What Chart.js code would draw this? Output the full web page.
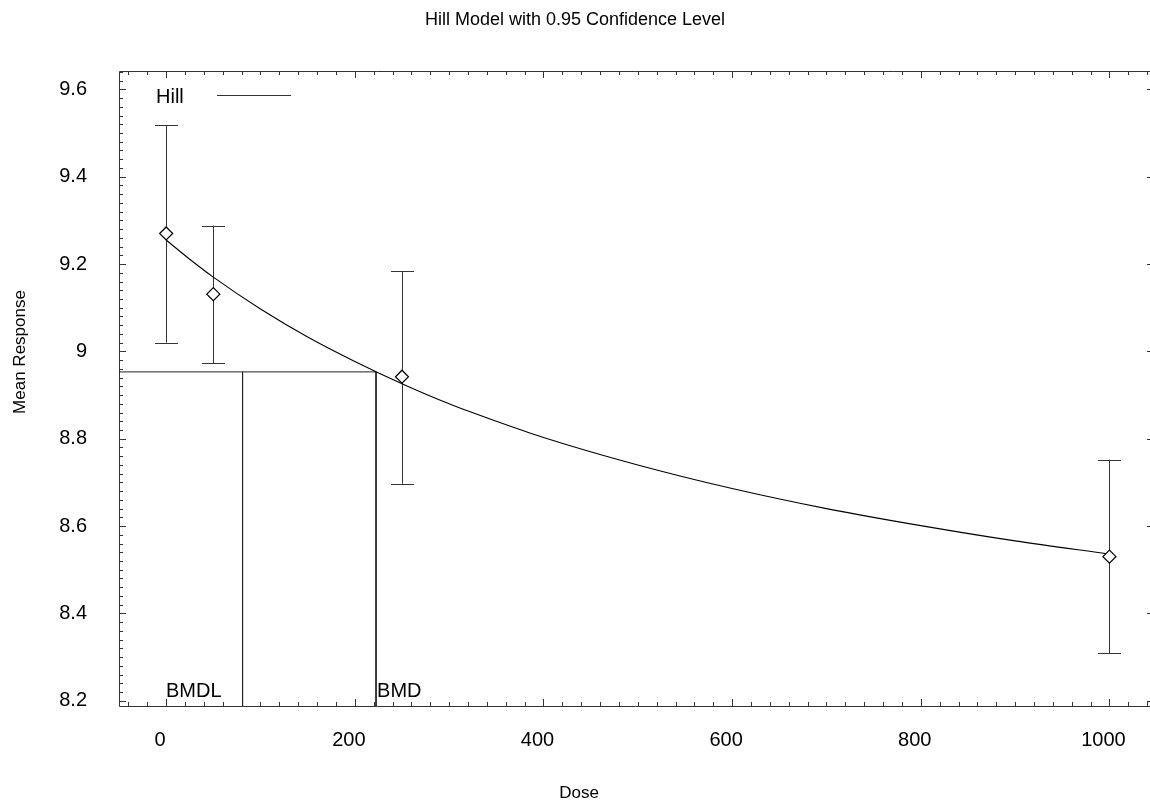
<!DOCTYPE html>
<html>
<head>
<meta charset="utf-8">
<title>Hill Model with 0.95 Confidence Level</title>
<script src="https://cdn.jsdelivr.net/npm/chart.js@4.4.0/dist/chart.umd.min.js"></script>
<style>
  html, body { margin: 0; padding: 0; background: #fff; overflow: hidden; }
  #wrap { width: 1150px; height: 805px; }
</style>
</head>
<body>
<div id="wrap"><canvas id="chart" width="1150" height="805"></canvas></div>
<script>
// Observed dose groups (mean with 95% bars)
const doses = [0, 50, 250, 1000];
const means = [9.27, 9.131, 8.942, 8.530];
const lowerBars = [9.02, 8.973, 8.697, 8.309];
const upperBars = [9.518, 9.288, 9.184, 8.752];

// Fitted Hill curve
const curveDoses = [0, 25, 50, 100, 150, 200, 250, 300, 350, 400, 500, 600, 700, 800, 900, 1000];
const curveValues = [9.255, 9.211, 9.170, 9.097, 9.033, 8.977, 8.926, 8.880, 8.840, 8.803, 8.740, 8.686, 8.640, 8.601, 8.566, 8.536];

// Benchmark dose markers
const bmr = 8.953;
const bmd = 222.5;
const bmdl = 81;

// Axis ticks
const xTicks = [0, 200, 400, 600, 800, 1000];
const yTicks = [8.2, 8.4, 8.6, 8.8, 9, 9.2, 9.4, 9.6];
const xMinorStep = 20;
const yMinorStep = 0.02;

const FONT = "'Liberation Sans', Arial, Helvetica, sans-serif";
const X_MIN = -50, X_MAX = 1043;
const Y_MIN = 8.188, Y_MAX = 9.642;

// frame, inward ticks and error bars
const framePlugin = {
    id: 'frame',
    beforeDatasetsDraw(chart) {
        const { ctx, chartArea: a, scales: { x, y } } = chart;
        ctx.save();
        ctx.strokeStyle = '#333';
        ctx.lineWidth = 1;
        ctx.beginPath();
        ctx.moveTo(a.left + 0.5, a.top + 0.5);
        ctx.lineTo(a.left + 0.5, a.bottom + 0.5);
        ctx.lineTo(a.right + 2, a.bottom + 0.5);
        ctx.moveTo(a.left + 0.5, a.top + 0.5);
        ctx.lineTo(a.right + 2, a.top + 0.5);

        // x ticks on bottom and top
        for (let v = Math.ceil(X_MIN / xMinorStep) * xMinorStep; v <= X_MAX; v += xMinorStep) {
            const px = Math.round(x.getPixelForValue(v)) + 0.5;
            const len = v % 200 === 0 ? 7 : 4;
            ctx.moveTo(px, a.bottom);
            ctx.lineTo(px, a.bottom - len);
            ctx.moveTo(px, a.top);
            ctx.lineTo(px, a.top + len);
        }
        // y ticks on left and right
        for (let i = 0; ; i++) {
            const v = 8.2 + i * yMinorStep;
            if (v > Y_MAX) break;
            const py = Math.round(y.getPixelForValue(v)) + 0.5;
            const major = i % 10 === 0;
            const len = major ? 7 : 4;
            ctx.moveTo(a.left, py);
            ctx.lineTo(a.left + len, py);
            if (major) {
                ctx.moveTo(a.right + 2, py);
                ctx.lineTo(a.right - 3, py);
            }
        }
        ctx.stroke();

        // error bars
        ctx.strokeStyle = '#333';
        ctx.beginPath();
        doses.forEach((d, i) => {
            const px = Math.round(x.getPixelForValue(d)) + 0.5;
            const top = y.getPixelForValue(upperBars[i]);
            const bot = y.getPixelForValue(lowerBars[i]);
            ctx.moveTo(px, top);
            ctx.lineTo(px, bot);
            ctx.moveTo(px - 11.5, Math.round(top) + 0.5);
            ctx.lineTo(px + 11.5, Math.round(top) + 0.5);
            ctx.moveTo(px - 11.5, Math.round(bot) + 0.5);
            ctx.lineTo(px + 11.5, Math.round(bot) + 0.5);
        });
        ctx.stroke();
        ctx.restore();
    },
    afterDraw(chart) {
        const { ctx, scales: { x, y } } = chart;
        ctx.save();
        ctx.fillStyle = '#000';
        ctx.textBaseline = 'middle';
        ctx.textAlign = 'center';
        ctx.font = `18px ${FONT}`;
        ctx.fillText('Hill Model with 0.95 Confidence Level', 575, 20);
        ctx.font = `17px ${FONT}`;
        ctx.fillText('Dose', 579, 793);
        ctx.save();
        ctx.translate(20, 352);
        ctx.rotate(-Math.PI / 2);
        ctx.fillText('Mean Response', 0, 0);
        ctx.restore();

        // legend
        ctx.font = `20px ${FONT}`;
        ctx.textAlign = 'left';
        ctx.textBaseline = 'alphabetic';
        ctx.fillText('Hill', 156, 103);
        ctx.strokeStyle = '#333';
        ctx.lineWidth = 1;
        ctx.beginPath();
        ctx.moveTo(217, 95.5);
        ctx.lineTo(291, 95.5);
        ctx.stroke();

        // BMD labels
        ctx.textAlign = 'right';
        ctx.fillText('BMDL', x.getPixelForValue(bmdl) - 21, 697);
        ctx.textAlign = 'left';
        ctx.fillText('BMD', x.getPixelForValue(bmd) + 1, 697);
        ctx.restore();
    }
};

const tickFont = { size: 20, family: FONT };

new Chart(document.getElementById('chart'), {
    type: 'scatter',
    data: {
        datasets: [
            {
                label: 'Observed',
                data: doses.map((d, i) => ({ x: d, y: means[i] })),
                pointStyle: 'rectRot',
                pointRadius: 6.5,
                pointBorderWidth: 1.2,
                pointBorderColor: '#000',
                pointBackgroundColor: '#fff',
                showLine: false,
                order: 0
            },
            {
                label: 'Hill',
                type: 'line',
                data: curveDoses.map((d, i) => ({ x: d, y: curveValues[i] })),
                borderColor: '#000',
                borderWidth: 1.1,
                pointRadius: 0,
                cubicInterpolationMode: 'monotone',
                fill: false,
                order: 1
            },
            {
                label: 'BMR',
                type: 'line',
                data: [{ x: X_MIN, y: bmr }, { x: bmd, y: bmr }],
                borderColor: '#222',
                borderWidth: 1,
                pointRadius: 0,
                order: 2
            },
            {
                label: 'BMD',
                type: 'line',
                data: [{ x: bmd, y: bmr }, { x: bmd, y: Y_MIN }],
                borderColor: '#222',
                borderWidth: 1,
                pointRadius: 0,
                order: 2
            },
            {
                label: 'BMDL',
                type: 'line',
                data: [{ x: bmdl, y: bmr }, { x: bmdl, y: Y_MIN }],
                borderColor: '#222',
                borderWidth: 1,
                pointRadius: 0,
                order: 2
            }
        ]
    },
    options: {
        responsive: false,
        animation: false,
        layout: { padding: { left: 19, top: 71, right: 0, bottom: 39 }, autoPadding: false },
        plugins: {
            legend: { display: false },
            tooltip: { enabled: false },
            title: { display: false }
        },
        scales: {
            x: {
                type: 'linear',
                min: X_MIN,
                max: X_MAX,
                grid: { display: false, drawTicks: false },
                border: { display: false },
                afterBuildTicks: (s) => { s.ticks = xTicks.map(v => ({ value: v })); },
                afterFit: (s) => {
                    s.height = 60;
                    s.paddingLeft = 0;
                    s.paddingRight = 0;
                },
                ticks: {
                    padding: 22,
                    labelOffset: -6,
                    color: '#000',
                    font: tickFont,
                    maxRotation: 0,
                    autoSkip: false,
                    callback: (v) => String(v)
                }
            },
            y: {
                type: 'linear',
                min: Y_MIN,
                max: Y_MAX,
                grid: { display: false, drawTicks: false },
                border: { display: false },
                afterBuildTicks: (s) => { s.ticks = yTicks.map(v => ({ value: v })); },
                afterFit: (s) => {
                    s.width = 100;
                    s.paddingTop = 0;
                    s.paddingBottom = 0;
                },
                ticks: {
                    padding: 32,
                    color: '#000',
                    font: tickFont,
                    autoSkip: false,
                    callback: (v) => String(+v.toFixed(1))
                }
            }
        }
    },
    plugins: [framePlugin]
});
</script>
</body>
</html>
